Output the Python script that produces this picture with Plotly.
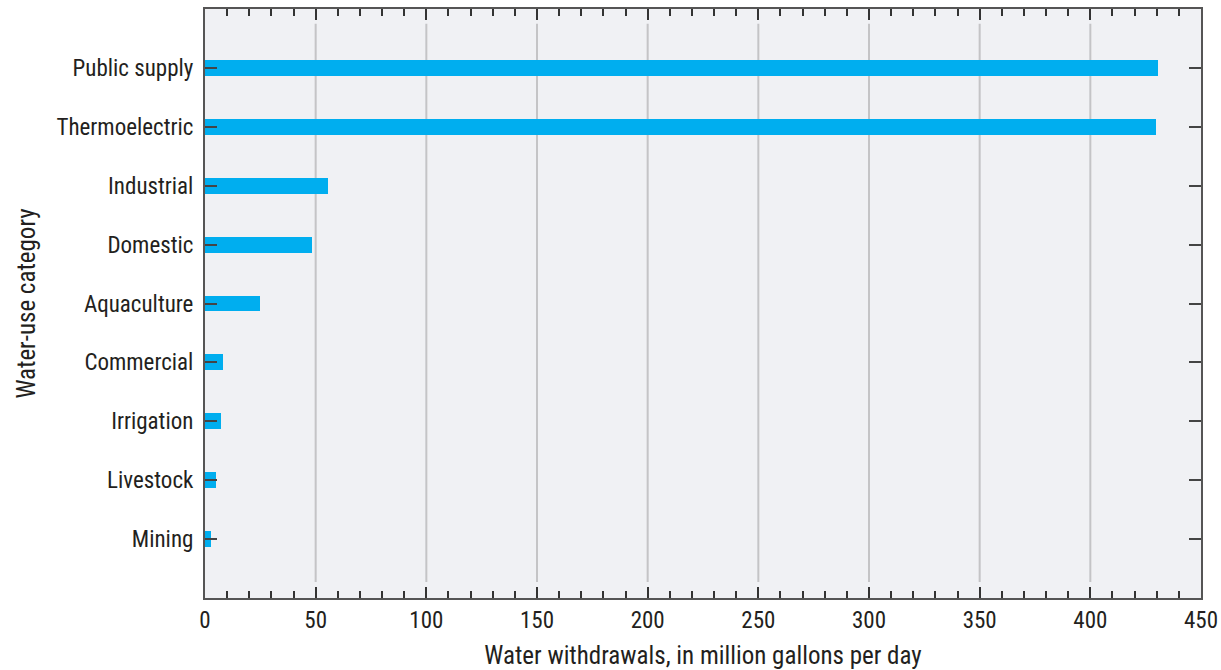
import plotly.graph_objects as go

categories = ["Public supply", "Thermoelectric", "Industrial", "Domestic", "Aquaculture",
              "Commercial", "Irrigation", "Livestock", "Mining"]
withdrawals = [430.6, 429.8, 55.6, 48.3, 24.8, 8.1, 7.2, 5.0, 2.7]
x_ticks = [0, 50, 100, 150, 200, 250, 300, 350, 400, 450]

FONT = "Liberation Sans Narrow, Roboto Condensed, Arial Narrow, sans-serif"

fig = go.Figure()
fig.add_trace(go.Bar(
    y=categories, x=withdrawals, orientation="h",
    marker=dict(color="#00AEEF", line=dict(width=0)),
    width=0.27,
))

shapes = []
for v in x_ticks[1:-1]:
    shapes.append(dict(type="line", xref="x", yref="paper", x0=v, x1=v, y0=0.027, y1=0.975,
                       line=dict(color="#C4C4C6", width=2), layer="below"))

fig.update_layout(
    width=1221, height=670,
    margin=dict(l=205, r=20, t=9, b=72, autoexpand=False),
    paper_bgcolor="white", plot_bgcolor="#F0F1F4",
    font=dict(family=FONT, size=23, color="#231F20"),
    showlegend=False,
    shapes=shapes,
    bargap=0,
    xaxis=dict(
        range=[0, 450], tickvals=x_ticks, ticks="inside", ticklen=11, tickwidth=1.5,
        tickcolor="#333", showgrid=False, zeroline=False, automargin=False,
        showline=True, linecolor="#555", linewidth=2, mirror="allticks",
        minor=dict(dtick=10, ticks="inside", ticklen=7, tickwidth=1.5, tickcolor="#333", showgrid=False),
        title=dict(text="Water withdrawals, in million gallons per day", standoff=20,
                   font=dict(size=25)),
        tickfont=dict(size=23),
    ),
    yaxis=dict(
        categoryorder="array", categoryarray=categories, range=[9, -1],
        ticks="inside", ticklen=12, tickwidth=1.5, tickcolor="#444",
        showgrid=False, zeroline=False, automargin=False,
        showline=True, linecolor="#555", linewidth=2, mirror="allticks",
        title=dict(text="Water-use category", standoff=14, font=dict(size=25)),
        tickfont=dict(size=23), ticklabelstandoff=5,
    ),
)

fig.write_html("out.html")
